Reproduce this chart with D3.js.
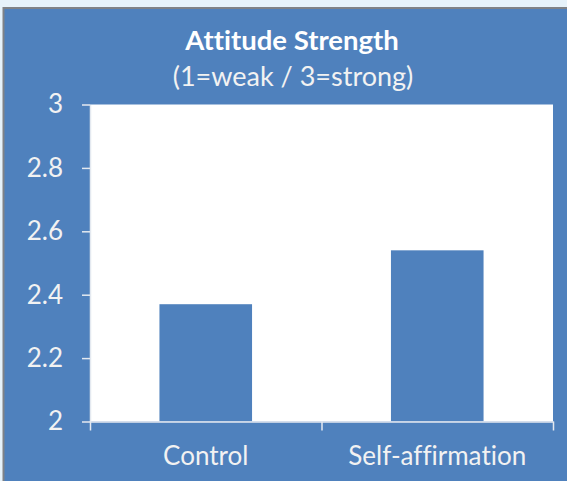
<html>
<head>
    <script src="https://cdn.jsdelivr.net/npm/d3@7"></script>
    <style>
        body {
            margin: 0;
            overflow: hidden;
            background-color: #4F81BD;
            font-family: Lato, "Open Sans", sans-serif;
            font-variant-ligatures: none;
        }
        svg {
            display: block;
        }
    </style>
</head>
<body>
    <svg id="Chart"></svg>
</body>
<script>
    // chart values
    let categories = ["Control", "Self-affirmation"]
    let values = [2.37, 2.54]
    let yTicks = [2, 2.2, 2.4, 2.6, 2.8, 3]
    let yTickLabels = ["2", "2.2", "2.4", "2.6", "2.8", "3"]
    let titleLines = ["Attitude Strength", "(1=weak / 3=strong)"]

    function getConfig() {
        let width = 567
        let height = 481
        // plot area (white rect) inside the blue chart area
        let margin = { top: 104.5, bottom: 59.5, left: 90, right: 14 }
        let bodyWidth = width - margin.left - margin.right
        let bodyHeight = height - margin.top - margin.bottom
        let container = d3.select("#Chart")
            .attr("width", width)
            .attr("height", height)
        return { width, height, margin, bodyWidth, bodyHeight, container }
    }

    function getScales(config) {
        let { bodyWidth, bodyHeight } = config
        let xScale = d3.scaleBand()
            .domain(categories)
            .range([0, bodyWidth])
            .paddingInner(0.6)
            .paddingOuter(0.3)
        // used for the tick marks that sit between categories
        let xEdges = d3.scaleLinear()
            .domain([0, categories.length])
            .range([0, bodyWidth])
        let yScale = d3.scaleLinear()
            .domain([2, 3])
            .range([bodyHeight, 0])
        return { xScale, xEdges, yScale }
    }

    function drawFrame(config) {
        let { container, width, height, margin, bodyWidth, bodyHeight } = config
        // page strip, gray border, blue chart area
        container.append("rect")
            .attr("x", 0).attr("y", 0)
            .attr("width", width).attr("height", height)
            .attr("fill", "#E6F2FA")
        container.append("rect")
            .attr("x", 2.5).attr("y", 7)
            .attr("width", width).attr("height", height)
            .attr("fill", "#7F8287")
        container.append("rect")
            .attr("x", 4.5).attr("y", 9)
            .attr("width", width).attr("height", height)
            .attr("fill", "#4F81BD")
        container.append("rect")
            .attr("x", margin.left).attr("y", margin.top)
            .attr("width", bodyWidth).attr("height", bodyHeight)
            .attr("fill", "#FFFFFF")

        container.append("text")
            .attr("x", 292).attr("y", 50)
            .attr("text-anchor", "middle")
            .attr("fill", "#FFFFFF")
            .style("font-size", "27.5px")
            .style("font-weight", "bold")
            .text(titleLines[0])
        container.append("text")
            .attr("x", 293).attr("y", 86)
            .attr("text-anchor", "middle")
            .attr("fill", "#F2F2F2")
            .style("font-size", "27px")
            .text(titleLines[1])
    }

    function drawBars(config, scales) {
        let { container, margin } = config
        let { xScale, yScale } = scales
        let body = container.append("g")
            .attr("transform", `translate(${margin.left},${margin.top})`)
        body.selectAll(".bar")
            .data(categories)
            .enter().append("rect")
            .attr("class", "bar")
            .attr("x", d => xScale(d))
            .attr("width", xScale.bandwidth())
            .attr("y", (d, i) => yScale(values[i]))
            .attr("height", (d, i) => yScale(2) - yScale(values[i]))
            .attr("fill", "#4F81BD")
    }

    function drawAxes(config, scales) {
        let { container, margin, bodyHeight } = config
        let { xScale, xEdges, yScale } = scales

        let axisY = d3.axisLeft(yScale)
            .tickValues(yTicks)
            .tickFormat((d, i) => yTickLabels[i])
            .tickSize(8)
            .tickSizeOuter(0)
            .tickPadding(19)
        let gy = container.append("g")
            .attr("transform", `translate(${margin.left},${margin.top})`)
            .call(axisY)

        let edgeAxis = d3.axisBottom(xEdges)
            .tickValues(d3.range(0, categories.length + 1))
            .tickFormat("")
            .tickSize(9)
            .tickSizeOuter(0)
        let gEdge = container.append("g")
            .attr("transform", `translate(${margin.left},${margin.top + bodyHeight})`)
            .call(edgeAxis)

        let axisX = d3.axisBottom(xScale)
            .tickSize(0)
            .tickPadding(25)
        let gx = container.append("g")
            .attr("transform", `translate(${margin.left},${margin.top + bodyHeight})`)
            .call(axisX)
        gx.select(".domain").remove()

        for (let g of [gy, gEdge, gx]) {
            g.selectAll("path, line")
                .attr("stroke", "#E4E9F0")
                .attr("stroke-width", 1.5)
            g.selectAll("text")
                .attr("fill", "#F2F2F2")
                .style("font-family", "Lato, 'Open Sans', sans-serif")
                .style("font-size", "26px")
        }
    }

    let config = getConfig()
    let scales = getScales(config)
    drawFrame(config)
    drawBars(config, scales)
    drawAxes(config, scales)
</script>
</html>
